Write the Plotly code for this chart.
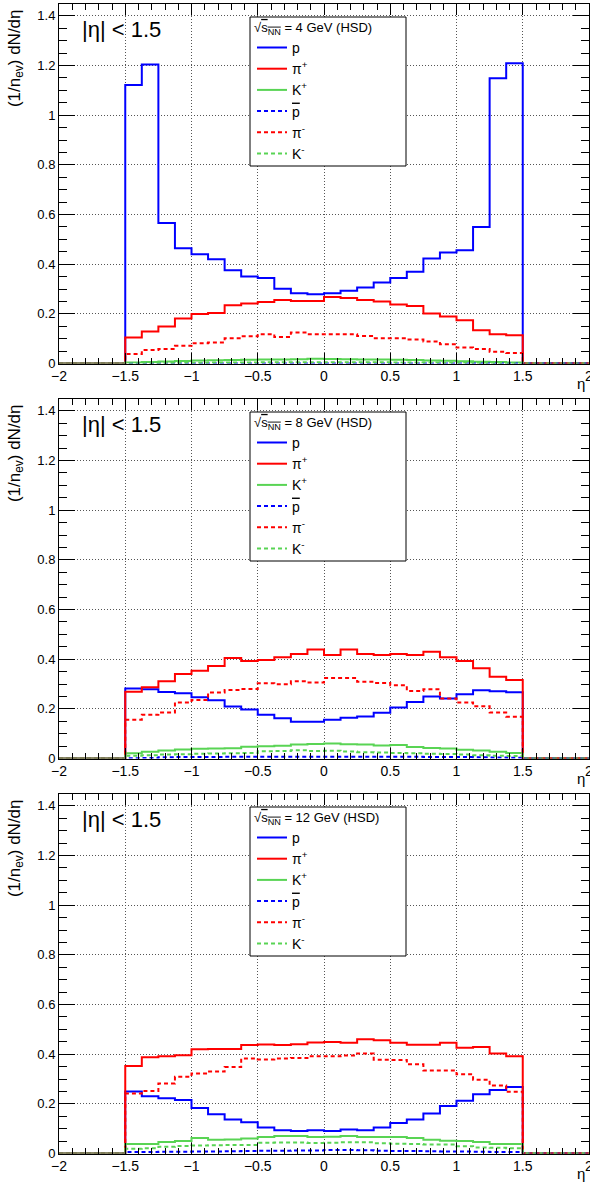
import numpy as np
import plotly.graph_objects as go

# ---------------- data ----------------
energies = ["4", "8", "12"]
species = ["p", "π<sup>+</sup>", "K<sup>+</sup>",
           '<span style="text-decoration:overline">p</span>', "π<sup>-</sup>", "K<sup>-</sup>"]
eta_lo, eta_hi, bin_width = -1.5, 1.5, 0.125
axis_lo, axis_hi = -2.0, 2.0

# sqrt(sNN) = 4 GeV
p_4 = [1.122, 1.204, 0.566, 0.464, 0.440, 0.420, 0.376, 0.350, 0.344, 0.301, 0.283, 0.279,
       0.283, 0.293, 0.306, 0.326, 0.344, 0.370, 0.423, 0.447, 0.456, 0.550, 1.149, 1.209]
pip_4 = [0.105, 0.129, 0.149, 0.181, 0.199, 0.203, 0.235, 0.242, 0.248, 0.256, 0.252, 0.252,
         0.268, 0.264, 0.256, 0.250, 0.238, 0.232, 0.201, 0.189, 0.174, 0.134, 0.118, 0.114]
kp_4 = [0.004, 0.006, 0.008, 0.010, 0.012, 0.013, 0.014, 0.015, 0.016, 0.016, 0.017, 0.019,
        0.018, 0.017, 0.016, 0.016, 0.015, 0.014, 0.012, 0.011, 0.009, 0.007, 0.006, 0.004]
pbar_4 = [0.0003] * 24
pim_4 = [0.038, 0.054, 0.058, 0.071, 0.082, 0.085, 0.102, 0.110, 0.118, 0.107, 0.125, 0.118,
         0.118, 0.118, 0.111, 0.102, 0.102, 0.097, 0.089, 0.078, 0.064, 0.058, 0.047, 0.042]
km_4 = [0.001, 0.002, 0.002, 0.003, 0.003, 0.004, 0.004, 0.004, 0.005, 0.005, 0.005, 0.005,
        0.005, 0.005, 0.005, 0.005, 0.004, 0.004, 0.004, 0.003, 0.003, 0.002, 0.002, 0.001]

# sqrt(sNN) = 8 GeV
p_8 = [0.282, 0.279, 0.268, 0.263, 0.247, 0.235, 0.209, 0.197, 0.176, 0.162, 0.148, 0.148,
       0.156, 0.164, 0.169, 0.184, 0.205, 0.228, 0.250, 0.242, 0.259, 0.275, 0.271, 0.267]
pip_8 = [0.269, 0.287, 0.311, 0.340, 0.353, 0.373, 0.405, 0.393, 0.397, 0.408, 0.421, 0.439,
         0.417, 0.439, 0.421, 0.417, 0.421, 0.417, 0.430, 0.408, 0.393, 0.364, 0.329, 0.316]
kp_8 = [0.021, 0.027, 0.032, 0.036, 0.039, 0.040, 0.041, 0.047, 0.049, 0.051, 0.056, 0.058,
        0.060, 0.057, 0.056, 0.052, 0.054, 0.046, 0.042, 0.040, 0.035, 0.032, 0.027, 0.022]
pbar_8 = [0.001, 0.002, 0.005, 0.006, 0.006, 0.006, 0.007, 0.007, 0.007, 0.007, 0.007, 0.007,
          0.007, 0.007, 0.007, 0.007, 0.007, 0.007, 0.006, 0.006, 0.006, 0.005, 0.004, 0.003]
pim_8 = [0.156, 0.176, 0.185, 0.226, 0.236, 0.266, 0.276, 0.280, 0.303, 0.299, 0.311, 0.306,
         0.324, 0.324, 0.309, 0.304, 0.295, 0.272, 0.279, 0.242, 0.226, 0.210, 0.185, 0.168]
km_8 = [0.011, 0.013, 0.016, 0.017, 0.019, 0.020, 0.021, 0.022, 0.029, 0.030, 0.033, 0.030,
        0.031, 0.028, 0.025, 0.024, 0.022, 0.021, 0.019, 0.018, 0.016, 0.013, 0.011, 0.010]

# sqrt(sNN) = 12 GeV
p_12 = [0.250, 0.231, 0.223, 0.215, 0.183, 0.158, 0.137, 0.126, 0.105, 0.094, 0.091, 0.094,
        0.091, 0.097, 0.094, 0.105, 0.123, 0.137, 0.161, 0.191, 0.212, 0.239, 0.256, 0.268]
pip_12 = [0.352, 0.388, 0.392, 0.396, 0.420, 0.421, 0.421, 0.437, 0.439, 0.437, 0.440, 0.447,
          0.449, 0.446, 0.460, 0.456, 0.446, 0.438, 0.438, 0.446, 0.426, 0.429, 0.403, 0.392]
kp_12 = [0.038, 0.038, 0.046, 0.050, 0.062, 0.055, 0.056, 0.060, 0.066, 0.070, 0.070, 0.066,
         0.067, 0.070, 0.066, 0.066, 0.066, 0.062, 0.055, 0.051, 0.050, 0.046, 0.038, 0.038]
pbar_12 = [0.006, 0.006, 0.007, 0.007, 0.008, 0.008, 0.009, 0.010, 0.011, 0.011, 0.012, 0.012,
           0.014, 0.014, 0.013, 0.011, 0.010, 0.010, 0.009, 0.008, 0.008, 0.007, 0.006, 0.006]
pim_12 = [0.242, 0.252, 0.282, 0.309, 0.322, 0.330, 0.348, 0.383, 0.379, 0.383, 0.385, 0.392,
          0.392, 0.395, 0.403, 0.378, 0.377, 0.359, 0.334, 0.334, 0.319, 0.297, 0.274, 0.249]
km_12 = [0.019, 0.021, 0.027, 0.030, 0.032, 0.033, 0.034, 0.034, 0.043, 0.044, 0.044, 0.042,
         0.043, 0.045, 0.045, 0.041, 0.039, 0.038, 0.036, 0.036, 0.029, 0.024, 0.023, 0.021]

panels = [
    [p_4, pip_4, kp_4, pbar_4, pim_4, km_4],
    [p_8, pip_8, kp_8, pbar_8, pim_8, km_8],
    [p_12, pip_12, kp_12, pbar_12, pim_12, km_12],
]

# ---------------- styles ----------------
FONT = "Liberation Sans, Arial, Helvetica, sans-serif"
BLUE, RED, GREEN = "#0000ff", "#ff0000", "#59d454"
styles = [(BLUE, "solid"), (RED, "solid"), (GREEN, "solid"),
          (BLUE, "4px,3px"), (RED, "4px,3px"), (GREEN, "4px,3px")]

W, H = 590, 1185
m_l, m_r, m_t, m_b = 59, 1, 3, 31
plot_w = W - m_l - m_r
plot_h = H - m_t - m_b
pad_h = H / 3.0
frame_top_off, frame_bot_off = 3.5, 363.5   # px inside each pad
box_x0, box_x1, box_y0, box_y1 = 250, 406, 17, 166   # legend frame, px inside each pad

def ypaper(px):
    return (H - m_b - px) / plot_h

def xpaper(px):
    return (px - m_l) / plot_w

domains = []
for k in range(3):
    top = ypaper(k * pad_h + frame_top_off)
    bot = ypaper(k * pad_h + frame_bot_off)
    domains.append([max(0.0, bot), min(1.0, top)])

edges = np.round(np.arange(axis_lo, axis_hi + bin_width / 2, bin_width), 6)
n_pad_lo = int(round((eta_lo - axis_lo) / bin_width))
n_pad_hi = int(round((axis_hi - eta_hi) / bin_width))

fig = go.Figure()
legend_names = ["legend", "legend2", "legend3"]
for k, (E, series) in enumerate(zip(energies, panels)):
    xa = "x" if k == 0 else f"x{k+1}"
    ya = "y" if k == 0 else f"y{k+1}"
    for name, vals, (col, dash) in zip(species, series, styles):
        full = np.concatenate([np.zeros(n_pad_lo), np.array(vals, float), np.zeros(n_pad_hi)])
        yv = np.append(full, full[-1])
        fig.add_trace(go.Scatter(
            x=edges, y=yv, mode="lines", name=name,
            line=dict(shape="hv", color=col, width=2, dash=dash),
            xaxis=xa, yaxis=ya, legend=legend_names[k], hoverinfo="skip"))

axis_common = dict(
    showline=True, linecolor="black", linewidth=1, mirror="ticks",
    ticks="inside", tickcolor="black", showgrid=True, gridcolor="#555555",
    griddash="1px,2px", gridwidth=1, zeroline=False, automargin=False,
    ticklabeloverflow="allow",
    tickfont=dict(family=FONT, size=14, color="black"),
)

layout = dict(
    width=W, height=H, margin=dict(l=m_l, r=m_r, t=m_t, b=m_b, autoexpand=False),
    paper_bgcolor="white", plot_bgcolor="white",
    font=dict(family=FONT, color="black"), showlegend=True,
)

annotations = []
shapes = []
for k in range(3):
    sfx = "" if k == 0 else str(k + 1)
    layout[f"xaxis{sfx}"] = dict(
        axis_common, range=[axis_lo, axis_hi], dtick=0.5, tick0=0, ticklen=11,
        minor=dict(dtick=0.1, tick0=0, ticklen=6, ticks="inside", tickcolor="black", showgrid=False),
        anchor=f"y{sfx}", domain=[0, 1])
    layout[f"yaxis{sfx}"] = dict(
        axis_common, range=[0, 1.45], dtick=0.2, tick0=0, ticklen=16,
        minor=dict(dtick=0.05, tick0=0, ticklen=8, ticks="inside", tickcolor="black", showgrid=False),
        anchor=f"x{sfx}", domain=domains[k], tickfont=dict(family=FONT, size=13, color="black"))

    # legend frame (white box with black border)
    shapes.append(dict(type="rect", xref="paper", yref="paper", layer="above",
                       x0=xpaper(box_x0), x1=xpaper(box_x1),
                       y0=ypaper(k * pad_h + box_y1), y1=ypaper(k * pad_h + box_y0),
                       fillcolor="white", line=dict(color="black", width=1)))

    header = (f'√<span style="text-decoration:overline">s<sub>NN</sub></span> = '
              f'{energies[k]} GeV (HSD)')
    layout[legend_names[k]] = dict(
        x=xpaper(box_x0 + 2), y=ypaper(k * pad_h + box_y0 - 2), xanchor="left", yanchor="top",
        bgcolor="rgba(0,0,0,0)", borderwidth=0,
        font=dict(family=FONT, size=14, color="black"), itemwidth=30,
        title=dict(text=header, font=dict(family=FONT, size=13, color="black")))

    yd = f"y{sfx} domain"
    xd = f"x{sfx} domain"
    annotations.append(dict(text="|η| < 1.5", xref=xd, yref=yd, x=xpaper(80),
                            y=1 - 25.5 / 360.0, xanchor="left", yanchor="middle", showarrow=False,
                            font=dict(family=FONT, size=22, color="black")))
    annotations.append(dict(text="(1/n<sub>ev</sub>) dN/dη", textangle=-90, xref="paper", yref=yd,
                            x=xpaper(16), y=0.99, xanchor="center", yanchor="top",
                            showarrow=False, font=dict(family=FONT, size=17, color="black")))
    annotations.append(dict(text="η", xref="paper", yref=yd, x=1.0, y=0, yshift=-20, xshift=-2,
                            xanchor="right", yanchor="middle", showarrow=False,
                            font=dict(family=FONT, size=15, color="black")))

layout["annotations"] = annotations
layout["shapes"] = shapes
fig.update_layout(**layout)
fig.write_html("out.html", config={"displayModeBar": False},
               post_script="document.body.style.margin='0px';document.body.style.padding='0px';")
